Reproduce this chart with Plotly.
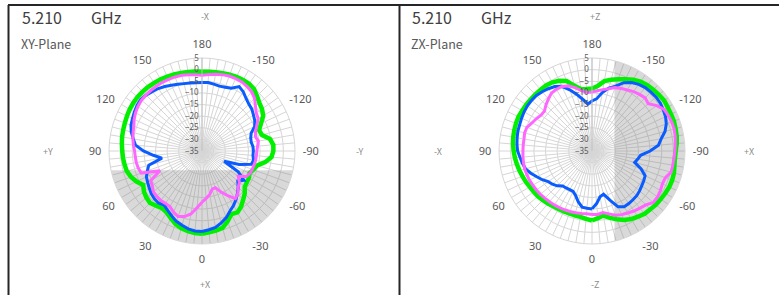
import plotly.graph_objects as go
import numpy as np

# ---------------- data ----------------
ANGLES = list(range(0, 181, 5)) + list(range(-175, 0, 5))   # degrees, chart convention
ANGLE_LABELS = [0, 30, 60, 90, 120, 150, 180, -150, -120, -90, -60, -30]
DB_TICKS = [-35, -30, -25, -20, -15, -10, -5, 0, 5]

FREQ = "5.210"
UNIT = "GHz"

# XY-Plane (0..180, then -175..-5)
xy_green = [0.6, 0.4, 0.0, -0.6, -1.6, -3.2, -4.5, -5.0, -4.3, -3.4, -3.8, -4.5, -5.8, -3.9, -2.5, -1.5,
            -1.2, -0.9, -0.7, -0.4, -0.1, 0.1, 0.3, 0.6, 0.9, 1.1, 1.2, 1.1, 1.0, 0.8, 0.6, 0.3, 0.1,
            -0.2, -0.5, -0.7, -0.9,
            -0.8, -0.6, -0.4, -0.1, 0.2, 0.3, 0.3, -0.2, -1.6, -2.8, -3.5, -4.6, -7.0, -8.9, -8.3,
            -5.3, -4.2, -4.3, -5.0, -7.4, -10.6, -11.5, -12.4, -11.7, -11.5, -11.0, -9.0, -7.5, -5.7,
            -4.5, -5.0, -2.8, -0.8, -0.2, 0.1]
xy_blue = [-0.4, -0.5, -1.0, -1.9, -2.8, -4.2, -5.5, -6.6, -5.8, -6.0, -6.5, -7.3, -8.0, -8.6, -10.0,
           -11.3, -17.5, -14.0, -9.8, -6.3, -5.0, -3.5, -2.5, -2.0, -1.4, -0.9, -0.6, -1.0, -1.7, -2.2,
           -3.0, -3.8, -4.5, -5.0, -5.3, -5.5, -5.5,
           -5.4, -5.8, -6.1, -5.8, -5.2, -3.0, -4.0, -5.5, -6.5, -7.0, -8.0, -8.8, -10.0, -12.5, -13.3,
           -13.5, -13.0, -12.9, -13.0, -12.5, -13.0, -18.0, -24.5, -17.0, -13.0, -14.9, -13.0, -11.3,
           -9.5, -7.9, -6.5, -4.5, -3.0, -1.6, -1.0]
xy_pink = [-13.0, -10.5, -7.5, -5.8, -5.0, -6.0, -7.4, -7.5, -7.3, -7.5, -7.7, -8.9, -9.5, -15.0, -7.2,
           -6.6, -6.3, -6.2, -6.0, -5.4, -4.8, -4.3, -3.8, -2.8, -2.0, -1.4, -1.0, -0.9, -0.9, -0.9,
           -0.9, -1.0, -1.1, -1.3, -1.7, -2.1, -2.4,
           -2.0, -1.5, -1.0, -0.7, -0.7, -0.7, -1.2, -1.8, -3.0, -5.0, -6.5, -7.1, -9.0, -10.5, -11.2,
           -10.4, -11.0, -11.4, -11.5, -11.6, -11.8, -12.0, -12.2, -13.0, -16.0, -14.0, -13.0, -11.0,
           -10.0, -12.8, -15.5, -18.2, -18.0, -16.0, -14.5]

# ZX-Plane
zx_green = [-5.1, -5.7, -6.2, -6.4, -6.4, -6.3, -6.2, -6.0, -5.5, -5.1, -4.6, -4.4, -4.1, -3.6, -3.2,
            -2.7, -2.2, -1.7, -1.3, -0.9, -0.6, -0.4, -0.2, -0.1, -0.3, -0.4, -0.5, -0.6, -0.6, -0.6,
            -0.9, -1.7, -3.0, -6.0, -8.0, -8.2, -8.1,
            -7.0, -4.5, -3.3, -2.2, -0.9, 0.4, 1.4, 2.0, 2.3, 2.6, 2.9, 2.6, 2.5, 2.5, 2.2, 2.0, 1.6,
            1.0, 0.8, 1.0, 1.5, 1.7, 1.7, 1.4, 1.1, 0.9, 0.5, 0.2, -0.5, -1.2, -2.3, -3.8, -5.2, -6.8,
            -6.0]
zx_blue = [-10.1, -10.3, -10.5, -12.3, -14.5, -15.8, -15.8, -15.6, -15.4, -13.8, -12.8, -12.0, -10.3,
           -8.8, -7.0, -5.4, -4.6, -3.9, -3.0, -2.6, -2.3, -2.0, -1.9, -1.6, -1.3, -1.1, -1.1, -1.2,
           -1.7, -2.3, -3.0, -4.3, -7.0, -9.8, -12.5, -14.7, -13.5,
           -12.5, -9.5, -7.0, -5.3, -2.6, -1.0, 0.0, 0.6, 0.8, 1.0, 0.9, 0.4, -0.1, -1.0, -2.5, -4.8,
           -6.3, -10.0, -14.0, -15.0, -16.0, -12.5, -9.8, -9.3, -8.9, -8.3, -7.8, -7.6, -7.4, -7.3,
           -8.5, -12.5, -15.8, -15.0, -12.3]
zx_pink = [-7.7, -7.9, -7.7, -7.5, -7.3, -7.1, -6.9, -6.7, -6.5, -6.3, -6.0, -5.8, -5.6, -5.3, -5.2,
           -5.0, -5.1, -5.2, -5.3, -5.3, -5.3, -5.0, -5.2, -6.5, -7.3, -8.2, -8.3, -7.0, -5.8, -4.6,
           -4.3, -4.4, -5.2, -6.8, -8.6, -9.6, -9.6,
           -9.0, -8.2, -7.3, -6.0, -5.3, -4.7, -3.8, -3.2, -2.7, -3.4, -1.0, 0.8, 1.2, 1.5, 1.6, 1.4,
           1.0, 0.7, 0.4, 0.3, 0.2, -1.4, -1.6, -1.0, -0.6, -0.6, -2.2, -2.9, -3.5, -4.2, -4.8, -5.6,
           -7.0, -8.1, -7.6]

# ---------------- style ----------------
W, H = 779, 295
GREEN, BLUE, PINK = "#00f000", "#0a5cff", "#ff66ff"
GRID = "#d6d6d6"
LBL = "#595959"
R_PX = 93
CENTERS = [(202, 151), (592, 151)]
SHADE = [(0, 78), (-90, 76)]   # (centre angle, half width) of shaded segment per panel

fig = go.Figure()

def closed(a):
    return list(a) + [a[0]]

panels = [
    ("polar", xy_green, xy_blue, xy_pink),
    ("polar2", zx_green, zx_blue, zx_pink),
]
for i, (sp, g, b, p) in enumerate(panels):
    c, h = SHADE[i]
    th = np.linspace(c - h, c + h, 121)
    fig.add_trace(go.Scatterpolar(theta=th, r=[DB_TICKS[-1]] * len(th), mode="lines",
                                  fill="toself", fillcolor="rgba(130,130,130,0.30)",
                                  line=dict(width=0, color="rgba(0,0,0,0)"),
                                  hoverinfo="skip", showlegend=False, subplot=sp))
    for vals, col, w in [(g, GREEN, 4.5), (b, BLUE, 3), (p, PINK, 3)]:
        fig.add_trace(go.Scatterpolar(theta=closed(ANGLES), r=closed(vals), mode="lines",
                                      line=dict(color=col, width=w), showlegend=False,
                                      subplot=sp))

tickvals = list(range(0, 360, 5))
lab_set = {a % 360: a for a in ANGLE_LABELS}
ticktext = [str(lab_set[v]) if v in lab_set else "" for v in tickvals]

def polar_layout(cx, cy):
    return dict(
        domain=dict(x=[(cx - R_PX) / W, (cx + R_PX) / W],
                    y=[(H - cy - R_PX) / H, (H - cy + R_PX) / H]),
        bgcolor="white",
        angularaxis=dict(rotation=270, direction="clockwise", tickmode="array",
                         tickvals=tickvals, ticktext=ticktext,
                         ticks="outside", ticklen=5, tickcolor="rgba(0,0,0,0)",
                         showgrid=True, gridcolor=GRID, gridwidth=1,
                         showline=True, linecolor=GRID, linewidth=1,
                         tickfont=dict(family="Noto Sans", size=11, color=LBL)),
        radialaxis=dict(range=[DB_TICKS[0], DB_TICKS[-1]], tickmode="array", tickvals=DB_TICKS,
                        angle=90, side="counterclockwise", tickangle=90,
                        showline=True, linecolor="#c0c0c0", linewidth=1,
                        showgrid=True, gridcolor=GRID, gridwidth=1, ticks="",
                        tickfont=dict(family="Noto Sans", size=8, color=LBL)),
    )

ann = []
def text(x, y, t, size, color, xanchor="center", family="Noto Sans CJK JP"):
    ann.append(dict(x=x / W, y=1 - y / H, xref="paper", yref="paper", text=t, showarrow=False,
                    xanchor=xanchor, yanchor="middle",
                    font=dict(family=family, size=size, color=color)))

for (cx, cy), plane, top, bot, left, right in [
        (CENTERS[0], "XY-Plane", "-X", "+X", "+Y", "-Y"),
        (CENTERS[1], "ZX-Plane", "+Z", "-Z", "-X", "+X")]:
    x0 = cx - 202
    text(x0 + 20, 17, FREQ, 16, "#404040", "left")
    text(x0 + 89, 17, UNIT, 16, "#404040", "left")
    text(x0 + 19, 44, plane, 12.5, LBL, "left")
    text(cx + 3, 17, top, 9, "#8c8c8c")
    text(cx + 3, 284, bot, 9, "#8c8c8c")
    text(cx - 154, 151, left, 9, "#8c8c8c")
    text(cx + 157, 151, right, 9, "#8c8c8c")

shapes = [
    dict(type="line", xref="paper", yref="paper", x0=8.5 / W, x1=8.5 / W, y0=0, y1=1 - 5 / H,
         line=dict(color="#262626", width=2)),
    dict(type="line", xref="paper", yref="paper", x0=8 / W, x1=1, y0=1 - 5 / H, y1=1 - 5 / H,
         line=dict(color="#262626", width=2)),
    dict(type="line", xref="paper", yref="paper", x0=399.5 / W, x1=399.5 / W, y0=0, y1=1 - 5 / H,
         line=dict(color="#262626", width=2)),
]

fig.update_layout(
    width=W, height=H, autosize=False,
    margin=dict(l=0, r=0, t=0, b=0),
    paper_bgcolor="white",
    polar=polar_layout(*CENTERS[0]),
    polar2=polar_layout(*CENTERS[1]),
    annotations=ann, shapes=shapes,
)
fig.write_html("out.html", config={"displayModeBar": False},
               post_script="document.body.style.margin='0';")
